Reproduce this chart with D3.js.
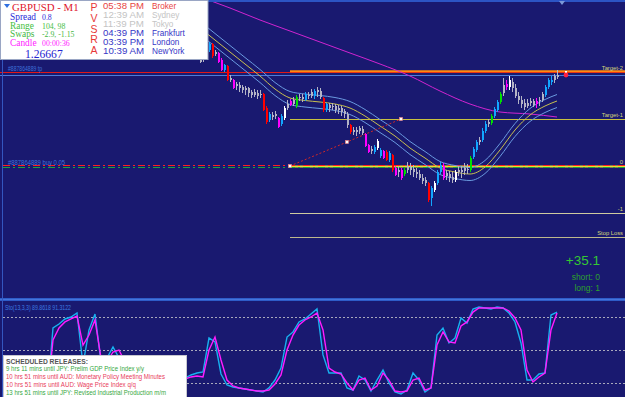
<!DOCTYPE html>
<html><head><meta charset="utf-8">
<script src="https://cdn.jsdelivr.net/npm/d3@7/dist/d3.min.js"></script>
<style>html,body{margin:0;padding:0;background:#191970;overflow:hidden}</style>
</head><body>
<svg id="c" width="625" height="397"></svg>
<script>
// ---------- DATA ----------
const firstCandleBar = 51;
const opens = [1.26727,1.26735,1.26747,1.26767,1.26791,1.26759,1.26755,1.26727,1.26687,1.26703,
1.26647,1.26647,1.26623,1.26627,1.26619,1.26607,1.26615,1.26599,1.26587,1.26595,
1.26587,1.26591,1.26535,1.26487,1.26507,1.26503,1.26495,1.26471,1.26495,1.26535,
1.26563,1.26551,1.26543,1.26575,1.26579,1.26567,1.26587,1.26583,1.26583,1.26599,
1.26603,1.26575,1.26527,1.26547,1.26539,1.26543,1.26527,1.26535,1.26523,1.26511,
1.26467,1.26439,1.26447,1.26443,1.26451,1.26431,1.26387,1.26363,1.26359,1.26375,
1.26343,1.26363,1.26359,1.26327,1.26347,1.26295,1.26279,1.26287,1.26271,1.26287,
1.26299,1.26291,1.26279,1.26271,1.26255,1.26247,1.26235,1.26175,1.26207,1.26235,
1.26279,1.26303,1.26263,1.26271,1.26259,1.26247,1.26279,1.26287,1.26283,1.26291,
1.26287,1.26339,1.26367,1.26399,1.26407,1.26443,1.26471,1.26475,1.26503,1.26527,
1.26559,1.26595,1.26631,1.26619,1.26639,1.26615,1.26583,1.26567,1.26555,1.26543,
1.26555,1.26563,1.26551,1.26563,1.26567,1.26587,1.26619,1.26647,1.26647,1.26659];
const highs = [1.26739,1.26743,1.26755,1.26799,1.26795,1.26767,1.26759,1.26735,1.26711,1.26707,
1.26667,1.26651,1.26639,1.26639,1.26627,1.26623,1.26619,1.26607,1.26611,1.26607,
1.26607,1.26595,1.26543,1.26519,1.26519,1.26523,1.26499,1.26511,1.26543,1.26567,
1.26571,1.26579,1.26587,1.26591,1.26591,1.26599,1.26599,1.26611,1.26611,1.26619,
1.26615,1.26579,1.26555,1.26555,1.26555,1.26551,1.26547,1.26543,1.26531,1.26519,
1.26471,1.26459,1.26459,1.26463,1.26463,1.26435,1.26391,1.26383,1.26387,1.26411,
1.26375,1.26367,1.26367,1.26363,1.26351,1.26303,1.26303,1.26295,1.26295,1.26319,
1.26315,1.26307,1.26295,1.26287,1.26271,1.26259,1.26239,1.26223,1.26243,1.26287,
1.26319,1.26315,1.26287,1.26283,1.26279,1.26287,1.26303,1.26303,1.26315,1.26311,
1.26343,1.26379,1.26407,1.26419,1.26455,1.26483,1.26491,1.26511,1.26539,1.26567,
1.26599,1.26655,1.26647,1.26663,1.26655,1.26631,1.26599,1.26583,1.26571,1.26571,
1.26575,1.26571,1.26575,1.26579,1.26599,1.26627,1.26655,1.26663,1.26671,1.26687];
const lows = [1.26715,1.26719,1.26731,1.26759,1.26735,1.26743,1.26715,1.26683,1.26679,1.26643,
1.26639,1.26611,1.26607,1.26599,1.26595,1.26587,1.26579,1.26575,1.26579,1.26571,
1.26575,1.26523,1.26471,1.26479,1.26487,1.26491,1.26455,1.26463,1.26487,1.26527,
1.26543,1.26543,1.26535,1.26563,1.26559,1.26563,1.26571,1.26575,1.26571,1.26579,
1.26571,1.26519,1.26519,1.26519,1.26527,1.26515,1.26511,1.26503,1.26495,1.26455,
1.26431,1.26427,1.26423,1.26431,1.26427,1.26379,1.26355,1.26351,1.26351,1.26367,
1.26335,1.26331,1.26323,1.26319,1.26279,1.26263,1.26259,1.26247,1.26263,1.26275,
1.26267,1.26259,1.26255,1.26247,1.26231,1.26223,1.26159,1.26143,1.26199,1.26227,
1.26271,1.26247,1.26247,1.26239,1.26235,1.26239,1.26263,1.26255,1.26267,1.26271,
1.26279,1.26331,1.26359,1.26387,1.26399,1.26435,1.26459,1.26467,1.26495,1.26519,
1.26551,1.26583,1.26607,1.26607,1.26599,1.26575,1.26551,1.26535,1.26527,1.26535,
1.26543,1.26539,1.26535,1.26543,1.26559,1.26579,1.26611,1.26627,1.26635,1.26651];
const closes = [1.26719,1.26727,1.26739,1.26791,1.26743,1.26751,1.26719,1.26687,1.26707,1.26647,
1.26655,1.26615,1.26631,1.26615,1.26607,1.26615,1.26595,1.26587,1.26599,1.26583,
1.26591,1.26527,1.26479,1.26511,1.26499,1.26511,1.26459,1.26503,1.26535,1.26551,
1.26547,1.26567,1.26579,1.26579,1.26571,1.26591,1.26583,1.26599,1.26603,1.26607,
1.26579,1.26527,1.26551,1.26535,1.26543,1.26527,1.26535,1.26519,1.26511,1.26467,
1.26439,1.26447,1.26439,1.26455,1.26435,1.26383,1.26359,1.26371,1.26379,1.26403,
1.26367,1.26335,1.26327,1.26355,1.26287,1.26267,1.26287,1.26255,1.26287,1.26303,
1.26287,1.26279,1.26271,1.26255,1.26243,1.26235,1.26167,1.26215,1.26235,1.26279,
1.26307,1.26255,1.26275,1.26255,1.26247,1.26279,1.26287,1.26279,1.26295,1.26287,
1.26335,1.26371,1.26399,1.26407,1.26443,1.26471,1.26479,1.26503,1.26531,1.26559,
1.26591,1.26627,1.26619,1.26647,1.26615,1.26583,1.26567,1.26551,1.26539,1.26555,
1.26563,1.26547,1.26563,1.26567,1.26591,1.26619,1.26647,1.26639,1.26663,1.26667];
const candleColors = "gggbrgmmbrgmgggggggggrrbggmbwgmgnggbggbggrbgggggggrggggmmgbwbmrbrmgmngggggggrbwbbmgggwggggnbbgbbgnbbngmwggggggggmggbbbggw";

const maBars   = [51,61,71,81,91,101,111,121,131,141,151,161,170];
const maValues = [1.26979,1.26935,1.26887,1.26843,1.26799,1.26755,1.26711,1.26663,1.26603,1.26551,1.26519,1.26511,1.26499];

const bandBars   = [51,56,61,66,71,76,81,86,91,96,101,106,111,116,121,126,131,136,141,146,151,156,161,166,170];
const bandCenter = [1.26855,1.26807,1.26759,1.26711,1.26663,1.26611,1.26575,1.26565,1.26559,1.26551,1.26535,1.26503,1.26463,1.26423,1.26375,1.26335,1.26295,1.26279,1.26271,1.26299,1.26367,1.26447,1.26507,1.26543,1.26563];
const bandUpper  = [1.26881,1.26833,1.26785,1.26737,1.26689,1.26637,1.26601,1.26591,1.26585,1.26577,1.26561,1.26529,1.26489,1.26449,1.26401,1.26361,1.26321,1.26305,1.26297,1.26325,1.26393,1.26473,1.26533,1.26569,1.26589];
const bandLower  = [1.26829,1.26781,1.26733,1.26685,1.26637,1.26585,1.26549,1.26539,1.26533,1.26525,1.26509,1.26477,1.26437,1.26397,1.26349,1.26309,1.26269,1.26253,1.26245,1.26273,1.26341,1.26421,1.26481,1.26517,1.26537];

const bidPrice = 1.26667;
const tradeOpenBar = 81;
const levelLabels = ["Target-2","Target-1","0","-1","Stop Loss"];
const levelPrices = [1.26680,1.26491,1.26303,1.26115,1.26019];
const tradeBars   = [81,100,118];
const tradePrices = [1.26303,1.26399,1.26491];
const markerBar = 173;

const stoStep = 2;
const stoMain = [4.5,70,73.6,78.2,80,83.6,36.4,68.2,82.7,39.1,42.7,52.7,42.7,31.8,22.7,18.2,22.7,27.3,18.2,13.6,
15.5,22.7,24.5,24.5,27.3,29.1,30,60.9,57.3,28.2,18.2,16.4,15.5,14.5,13.6,12.7,11.8,15.5,22.7,33.6,
61.8,66.4,75.5,78.2,82.7,87.3,45.5,29.1,29.1,29.1,15.5,13.6,26.4,22.7,12.7,22.7,31.8,20,11.8,10,
13.6,29.1,22.7,11.8,15.5,63.6,70,56.4,60.9,79.1,74.5,87.3,89.1,88.2,87.3,89.1,88.2,83.6,75.5,56.4,
22.7,22.7,28.2,29.1,81.8,84.5];
const stoSignal = [4.5,59.1,70,75.5,78.2,80.9,54.5,63.6,77.3,42.7,39.1,48.2,50,39.1,27.3,20,20,24.5,20.9,15.5,
15.5,20,22.7,23.6,25.5,26.4,25.5,50,61.8,40.9,22.7,17.3,15.5,14.5,13.6,12.7,12.7,13.6,19.1,27.3,
50,63.6,72.7,77.3,80,83.6,68.2,33.6,30,28.2,20,13.6,22.7,24.5,13.6,17.3,29.1,22.7,12.7,11.8,
12.7,22.7,24.5,13.6,15.5,54.5,66.4,57.3,56.4,71.8,75.5,84.5,88.2,88.2,88.2,88.2,88.2,85.5,79.1,68.2,
31.8,20.9,25.5,29.1,68.2,83.6];
const stoLevels = [20,50,80];
const stoLabel = "Sto(13,3,3) 89.8618 91.3122";

const infoTitle = "GBPUSD - M1";
const infoLabels = ["Spread","Range","Swaps","Candle"];
const infoValues = ["0.8","104, 98","-2.9, -1.15","00:00:36"];
const infoPrice = "1.26667";
const pvsra = ["P","V","S","R","A"];
const sessionTimes = ["05:38 PM","12:39 AM","11:39 PM","04:39 PM","03:39 PM","10:39 AM"];
const sessionNames = ["Broker","Sydney","Tokyo","Frankfurt","London","NewYork"];
const tradeStats = ["+35.1","short: 0","long: 1"];
const orderLabels = ["#887864889 tp","#887864889 buy 0.05"];
const releasesTitle = "SCHEDULED RELEASES:";
const releases = ["9 hrs 11 mins until JPY: Prelim GDP Price Index y/y",
"10 hrs 51 mins until AUD: Monetary Policy Meeting Minutes",
"10 hrs 51 mins until AUD: Wage Price Index q/q",
"13 hrs 51 mins until JPY: Revised Industrial Production m/m"];

// ---------- DRAW ----------
const W = 625, H = 397;
const SANS = "'Liberation Sans', Arial, sans-serif";
const SERIF = "'Liberation Serif', 'Times New Roman', serif";
const x = d3.scaleLinear().domain([0,170]).range([47,557]);
const y = d3.scaleLinear().domain([1.25779,1.26967]).range([297,0]);
const ys = d3.scaleLinear().domain([0,100]).range([405,295]);
const crisp = v => Math.round(v) + 0.5;

const svg = d3.select("#c");
svg.append("rect").attr("width",W).attr("height",H).attr("fill","#191970");
const defs = svg.append("defs");
defs.append("clipPath").attr("id","cm").append("rect").attr("x",0).attr("y",0).attr("width",W).attr("height",298);
defs.append("clipPath").attr("id","cs").append("rect").attr("x",3).attr("y",301).attr("width",W).attr("height",96);

const g = svg.append("g").attr("clip-path","url(#cm)");
const x0 = x(tradeOpenBar);

// tp red line + orange target line + bid line
g.append("line").attr("x1",0).attr("x2",W).attr("y1",crisp(y(levelPrices[0]))).attr("y2",crisp(y(levelPrices[0]))).attr("stroke","#e01818");
g.append("line").attr("x1",x0).attr("x2",W).attr("y1",y(levelPrices[0])-0.5).attr("y2",y(levelPrices[0])-0.5).attr("stroke","#ff8a10").attr("stroke-width",2);
g.append("line").attr("x1",0).attr("x2",W).attr("y1",crisp(y(bidPrice))).attr("y2",crisp(y(bidPrice))).attr("stroke","#4c7cd8");

// level lines
const levelColors = [null,"#c8c040","#e8e030","#cfcaa0","#bdb88c"];
levelPrices.forEach((p,i)=>{
  if(i===0) return;
  g.append("line").attr("x1",x0).attr("x2",W).attr("y1",crisp(y(p))).attr("y2",crisp(y(p)))
   .attr("stroke",levelColors[i]).attr("stroke-width", i===2 ? 2 : 1);
});
// entry dash-dot lines
const ye = Math.round(y(levelPrices[2]));
g.append("line").attr("x1",3).attr("x2",W).attr("y1",ye-0.5).attr("y2",ye-0.5).attr("stroke","#ff2020").attr("stroke-dasharray","7,3,2,3");
g.append("line").attr("x1",3).attr("x2",W).attr("y1",ye+1.5).attr("y2",ye+1.5).attr("stroke","#20a040").attr("stroke-dasharray","7,3,2,3");

// MA
g.append("path").datum(maBars.map((b,i)=>[b,maValues[i]]))
 .attr("d",d3.line().x(d=>x(d[0])).y(d=>y(d[1])).curve(d3.curveMonotoneX))
 .attr("fill","none").attr("stroke","#d024d0").attr("stroke-width",1);

// envelope bands
[[bandUpper,"#6a9ae0"],[bandLower,"#6a9ae0"],[bandCenter,"#c8c050"]].forEach(([arr,col])=>{
  g.append("path").datum(bandBars.map((b,i)=>[b,arr[i]]))
   .attr("d",d3.line().x(d=>x(d[0])).y(d=>y(d[1])).curve(d3.curveMonotoneX))
   .attr("fill","none").attr("stroke",col).attr("stroke-width",1);
});

// candles
const colorMap = {g:"#b4b4c6", w:"#ffffff", r:"#ff0000", m:"#ff00ff", b:"#12a6ff", n:"#00e000"};
const candles = opens.map((o,i)=>({bar:firstCandleBar+i,o:o,h:highs[i],l:lows[i],c:closes[i],col:colorMap[candleColors[i]]}));
const cg = g.append("g").attr("shape-rendering","crispEdges");
cg.selectAll("rect.wick").data(candles).join("rect").attr("class","wick")
  .attr("x",d=>Math.round(x(d.bar))).attr("width",1)
  .attr("y",d=>y(d.h)).attr("height",d=>Math.max(1,y(d.l)-y(d.h))).attr("fill",d=>d.col);
cg.selectAll("rect.body").data(candles).join("rect").attr("class","body")
  .attr("x",d=>Math.round(x(d.bar))).attr("width",2)
  .attr("y",d=>y(Math.max(d.o,d.c))).attr("height",d=>Math.max(1,Math.abs(y(d.o)-y(d.c)))).attr("fill",d=>d.col);

// trade dotted line + markers
g.append("path").datum(tradeBars.map((b,i)=>[b,tradePrices[i]]))
 .attr("d",d3.line().x(d=>x(d[0])).y(d=>y(d[1])))
 .attr("fill","none").attr("stroke","#d02828").attr("stroke-dasharray","2,2");
g.selectAll("rect.tm").data(tradeBars.map((b,i)=>[b,tradePrices[i]])).join("rect").attr("class","tm")
 .attr("x",d=>x(d[0])-1.5).attr("y",d=>y(d[1])-1.5).attr("width",3).attr("height",3)
 .attr("fill","#fff").attr("stroke","#f08080").attr("stroke-width",0.6);

// current price marker
g.append("rect").attr("x",x(markerBar)-1).attr("y",y(bidPrice)-4).attr("width",2).attr("height",2).attr("fill","#ffffff");
g.append("circle").attr("cx",x(markerBar)).attr("cy",y(bidPrice)).attr("r",2.4).attr("fill","#ff2040");

// order labels
g.append("text").attr("x",8).attr("y",71).text(orderLabels[0]).attr("font-family",SANS).attr("font-size",7)
 .attr("fill","#3f72dc").attr("textLength",34).attr("lengthAdjust","spacingAndGlyphs");
g.append("text").attr("x",8).attr("y",165).text(orderLabels[1]).attr("font-family",SANS).attr("font-size",7)
 .attr("fill","#3f72dc").attr("textLength",57).attr("lengthAdjust","spacingAndGlyphs");

// right level labels
levelLabels.forEach((t,i)=>{
  svg.append("text").attr("x",623).attr("y",Math.round(y(levelPrices[i]))-2).attr("text-anchor","end")
   .attr("font-family",SANS).attr("font-size",5.8).attr("fill","#d6d67a").text(t);
});

// trade stats
g.append("text").attr("x",600).attr("y",265).attr("text-anchor","end").attr("font-family",SANS).attr("font-size",13.5).attr("fill","#34c834").text(tradeStats[0]);
g.append("text").attr("x",600).attr("y",279.5).attr("text-anchor","end").attr("font-family",SANS).attr("font-size",8.5).attr("fill","#2ca02c").text(tradeStats[1]);
g.append("text").attr("x",600).attr("y",291).attr("text-anchor","end").attr("font-family",SANS).attr("font-size",8.5).attr("fill","#2ca02c").text(tradeStats[2]);

// borders
svg.append("rect").attr("x",0).attr("y",0).attr("width",W).attr("height",2).attr("fill","#2c54c4");
svg.append("path").attr("d","M559,1 L565,1 L562,5 Z").attr("fill","#7b98d8");
svg.append("rect").attr("x",0).attr("y",298).attr("width",W).attr("height",3).attr("fill","#2e5cc8");
svg.append("rect").attr("x",0).attr("y",299).attr("width",W).attr("height",1).attr("fill","#4474dc");
svg.append("rect").attr("x",2).attr("y",0).attr("width",1).attr("height",H).attr("fill","#3456c0");

// ---------- STOCHASTIC PANE ----------
const sg = svg.append("g").attr("clip-path","url(#cs)");
stoLevels.forEach(v=>{
  sg.append("line").attr("x1",3).attr("x2",W).attr("y1",crisp(ys(v))).attr("y2",crisp(ys(v)))
    .attr("stroke","#a8a8bc").attr("stroke-dasharray","2,2");
});
const stoLine = d3.line().x((d,i)=>x(i*stoStep)).y(d=>ys(d));
sg.append("path").datum(stoMain).attr("d",stoLine).attr("fill","none").attr("stroke","#18b0f0").attr("stroke-width",1.4);
sg.append("path").datum(stoSignal).attr("d",stoLine).attr("fill","none").attr("stroke","#ff1cff").attr("stroke-width",1.4);
svg.append("text").attr("x",5).attr("y",310).text(stoLabel).attr("font-family",SANS).attr("font-size",7.5)
  .attr("fill","#3c7ae0").attr("textLength",66).attr("lengthAdjust","spacingAndGlyphs");

// releases box
svg.append("rect").attr("x",3.5).attr("y",355.5).attr("width",183).attr("height",44).attr("fill","#ffffff").attr("stroke","#c8c8d0");
svg.append("text").attr("x",6).attr("y",364).text(releasesTitle).attr("font-family",SANS).attr("font-size",7).attr("font-weight","bold")
  .attr("fill","#555555").attr("textLength",82).attr("lengthAdjust","spacingAndGlyphs");
const relColors = ["#36a83e","#e8405c","#e8405c","#36a83e"];
const relLen = [138,159,130,160];
const relY = [370.5,379,387,395];
releases.forEach((t,i)=>{
  svg.append("text").attr("x",6).attr("y",relY[i]).text(t).attr("font-family",SANS).attr("font-size",6.6)
    .attr("fill",relColors[i]).attr("textLength",relLen[i]).attr("lengthAdjust","spacingAndGlyphs");
});

// ---------- INFO BOX ----------
const ib = svg.append("g");
ib.append("rect").attr("x",0.5).attr("y",0.5).attr("width",207.5).attr("height",59).attr("fill","#ffffff").attr("stroke","#9aa6c4");
ib.append("path").attr("d","M4,4 L10,4 L7,8 Z").attr("fill","#2f6fe0");
ib.append("text").attr("x",12).attr("y",11).text(infoTitle).attr("font-family",SERIF).attr("font-size",10.8).attr("fill","#e0142c");
const infoColors = ["#2a2ad8","#44c044","#44b844","#ff22ff"];
const infoY = [19.8,28.6,37.4,46.2];
infoLabels.forEach((t,i)=>{
  ib.append("text").attr("x",10).attr("y",infoY[i]).text(t).attr("font-family",SERIF).attr("font-size",9.4).attr("fill",infoColors[i]);
  ib.append("text").attr("x",42).attr("y",infoY[i]).text(infoValues[i]).attr("font-family",SERIF).attr("font-size",7.8).attr("fill",infoColors[i]);
});
ib.append("text").attr("x",25).attr("y",58).text(infoPrice).attr("font-family",SERIF).attr("font-size",11.6).attr("fill","#2424d0");
const pvY = [11,21.8,32.5,43.3,54];
pvsra.forEach((t,i)=>{
  ib.append("text").attr("x",94).attr("y",pvY[i]).attr("text-anchor","middle").text(t).attr("font-family",SANS).attr("font-size",10.5).attr("fill","#e83838");
});
const sessColors = ["#e84444","#c4c4c4","#c4c4c4","#3636c6","#3636c6","#3636c6"];
sessionTimes.forEach((t,i)=>{
  ib.append("text").attr("x",103).attr("y",9+9*i).text(t).attr("font-family",SANS).attr("font-size",8.5)
    .attr("fill",sessColors[i]).attr("textLength",41).attr("lengthAdjust","spacingAndGlyphs");
  ib.append("text").attr("x",152).attr("y",9+9*i).text(sessionNames[i]).attr("font-family",SANS).attr("font-size",8.2).attr("fill",sessColors[i]);
});
</script>
</body></html>
